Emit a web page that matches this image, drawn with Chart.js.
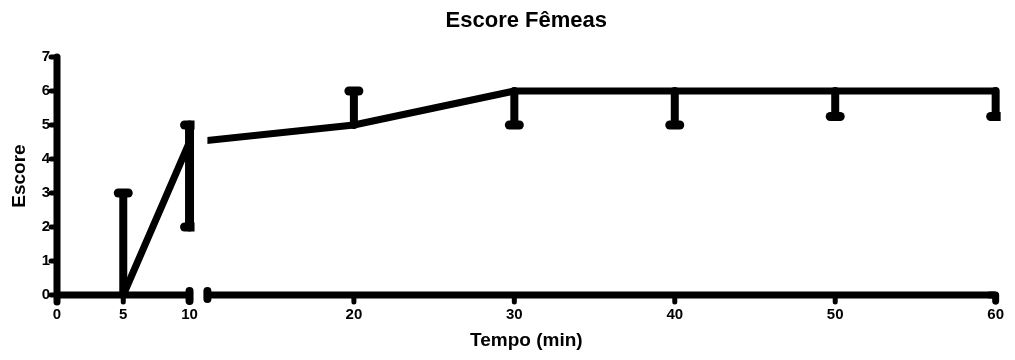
<!DOCTYPE html>
<html lang="pt-BR">
<head>
<meta charset="utf-8">
<title>Escore Fêmeas</title>
<script src="https://cdn.jsdelivr.net/npm/chart.js@4.4.1/dist/chart.umd.min.js"></script>
<style>
  html, body { margin: 0; padding: 0; background: #fff; }
  #quadro { width: 1015px; height: 360px; position: relative; }
</style>
</head>
<body>
<div id="quadro"><canvas id="grafico"></canvas></div>
<script>
// Escore ao longo do tempo: mediana com limites inferior e superior
const tempos = [5, 10, 20, 30, 40, 50, 60];
const medianas = [0, 4.5, 5, 6, 6, 6, 6];
const limiteInferior = [0, 2, 5, 5, 5, 5.25, 5.25];
const limiteSuperior = [3, 5, 6, 6, 6, 6, 6];

// Marcas dos eixos (eixo X interrompido entre 10 e 20 min)
const ticksTempo = [0, 5, 10, 20, 30, 40, 50, 60];
const rotulosTempo = ['0', '5', '10', '20', '30', '40', '50', '60'];
const ticksEscore = [0, 1, 2, 3, 4, 5, 6, 7];

// Geometria do eixo interrompido, em unidades internas da escala linear
const FIM_TRECHO1 = 10;         // último minuto do primeiro trecho
const INICIO_TRECHO2 = 10.87;   // primeiro minuto visível do segundo trecho
const ESCALA_TRECHO2 = 1.2105;  // largura relativa de 1 min no segundo trecho
const ORIGEM_TRECHO2 = 22.4;    // posição interna do minuto 20

function posicao(t, trecho) {
  return trecho === 1 ? t : ORIGEM_TRECHO2 + (t - 20) * ESCALA_TRECHO2;
}
function trechoDe(t) { return t <= FIM_TRECHO1 ? 1 : 2; }

const pontosTrecho1 = [];
const pontosTrecho2 = [];
tempos.forEach((t, i) => {
  if (t <= FIM_TRECHO1) pontosTrecho1.push({ x: posicao(t, 1), y: medianas[i] });
  if (t >= FIM_TRECHO1) pontosTrecho2.push({ x: posicao(t, 2), y: medianas[i] });
});

const PRETO = '#000';

function traco(ctx, x1, y1, x2, y2) {
  ctx.beginPath();
  ctx.moveTo(x1, y1);
  ctx.lineTo(x2, y2);
  ctx.stroke();
}

function limitesTrechos(x) {
  return {
    xIni: x.getPixelForValue(posicao(0, 1)),
    x10: x.getPixelForValue(posicao(FIM_TRECHO1, 1)),
    x2a: x.getPixelForValue(posicao(INICIO_TRECHO2, 2)),
    x60: x.getPixelForValue(posicao(60, 2))
  };
}

// Eixos desenhados com pontas arredondadas e o corte entre os trechos
const eixoInterrompido = {
  id: 'eixoInterrompido',
  beforeDatasetsDraw(chart) {
    const { ctx, scales: { x, y } } = chart;
    const { xIni, x10, x2a, x60 } = limitesTrechos(x);
    const y0 = y.getPixelForValue(0);
    const yTopo = y.getPixelForValue(7);
    ctx.save();
    ctx.strokeStyle = PRETO;
    ctx.lineJoin = 'round';

    // eixo Y
    ctx.lineCap = 'round';
    ctx.lineWidth = 7;
    traco(ctx, xIni, yTopo, xIni, y0 + 7);
    ctx.lineWidth = 5;
    ticksEscore.forEach(v => {
      const py = y.getPixelForValue(v);
      traco(ctx, xIni - 6, py, xIni, py);
    });

    // eixo X, dois trechos
    ctx.lineCap = 'butt';
    ctx.lineWidth = 7;
    traco(ctx, xIni, y0, x10, y0);
    traco(ctx, x2a, y0, x60, y0);

    // extremidades do corte
    ctx.lineCap = 'round';
    ctx.lineWidth = 8;
    traco(ctx, x10, y0 - 4, x10, y0 + 6);
    traco(ctx, x2a, y0 - 4, x2a, y0 + 4);

    // marcas do eixo X
    ctx.lineWidth = 5;
    ticksTempo.forEach(t => {
      const px = x.getPixelForValue(posicao(t, trechoDe(t)));
      traco(ctx, px, y0, px, y0 + 7);
    });
    ctx.lineWidth = 7;
    ctx.beginPath();
    ctx.moveTo(x60 - 6, y0);
    ctx.lineTo(x60, y0);
    ctx.lineTo(x60, y0 + 6);
    ctx.stroke();
    ctx.restore();
  }
};

// O segundo trecho da linha começa após o corte do eixo
const recorteTrecho2 = {
  id: 'recorteTrecho2',
  beforeDatasetDraw(chart, args) {
    if (args.index !== 1) return;
    const { ctx, scales: { x } } = chart;
    const { x2a } = limitesTrechos(x);
    ctx.save();
    ctx.beginPath();
    ctx.rect(x2a, 0, chart.width - x2a, chart.height);
    ctx.clip();
  },
  afterDatasetDraw(chart, args) {
    if (args.index === 1) chart.ctx.restore();
  }
};

// Barras de variação (limite inferior e superior) em cada tempo
const barrasVariacao = {
  id: 'barrasVariacao',
  afterDatasetsDraw(chart) {
    const { ctx, chartArea, scales: { x, y } } = chart;
    const { x10, x2a, x60 } = limitesTrechos(x);
    tempos.forEach((t, i) => {
      const trecho = trechoDe(t);
      const px = x.getPixelForValue(posicao(t, trecho));
      const yInf = y.getPixelForValue(limiteInferior[i]);
      const ySup = y.getPixelForValue(limiteSuperior[i]);
      ctx.save();
      ctx.beginPath();
      const topo = chartArea.top - 20;
      const alt = chartArea.height + 40;
      if (trecho === 1) {
        ctx.rect(chartArea.left - 20, topo, x10 + 5 - (chartArea.left - 20), alt);
      } else {
        ctx.rect(x2a, topo, x60 + 5 - x2a, alt);
      }
      ctx.clip();
      ctx.strokeStyle = PRETO;
      ctx.lineCap = 'round';
      ctx.lineWidth = trecho === 1 && t === FIM_TRECHO1 ? 9 : 8;
      traco(ctx, px, ySup, px, yInf);
      ctx.lineWidth = 9;
      if (limiteSuperior[i] > medianas[i]) traco(ctx, px - 5, ySup, px + 5, ySup);
      if (limiteInferior[i] < medianas[i]) traco(ctx, px - 5, yInf, px + 5, yInf);
      ctx.restore();
    });
  }
};

Chart.defaults.font.family = "'Liberation Sans', Arial, sans-serif";
Chart.defaults.color = PRETO;

new Chart(document.getElementById('grafico'), {
  type: 'line',
  data: {
    datasets: [
      {
        data: pontosTrecho1,
        borderColor: PRETO,
        borderWidth: 7,
        borderCapStyle: 'round',
        borderJoinStyle: 'round',
        pointRadius: 0,
        fill: false,
        tension: 0,
        clip: 8
      },
      {
        data: pontosTrecho2,
        borderColor: PRETO,
        borderWidth: 7,
        borderCapStyle: 'round',
        borderJoinStyle: 'round',
        pointRadius: 0,
        fill: false,
        tension: 0,
        clip: 8
      }
    ]
  },
  options: {
    responsive: true,
    maintainAspectRatio: false,
    animation: false,
    devicePixelRatio: 1,
    layout: { padding: { left: 0, right: 15, top: 0, bottom: 0 } },
    plugins: {
      legend: { display: false },
      tooltip: { enabled: false },
      title: {
        display: true,
        text: 'Escore Fêmeas',
        fullSize: false,
        color: PRETO,
        font: { size: 22, weight: 'bold' },
        padding: { top: 8, bottom: 22.6 }
      }
    },
    scales: {
      x: {
        type: 'linear',
        min: 0,
        max: posicao(60, 2),
        border: { display: false },
        grid: { display: false, drawTicks: false },
        afterBuildTicks: s => { s.ticks = ticksTempo.map(t => ({ value: posicao(t, trechoDe(t)) })); },
        afterFit: s => { s.height = 65; },
        ticks: {
          autoSkip: false,
          maxRotation: 0,
          padding: 11,
          color: PRETO,
          font: { size: 15, weight: 'bold' },
          callback: (v, i) => rotulosTempo[i]
        },
        title: {
          display: true,
          text: 'Tempo (min)',
          color: PRETO,
          font: { size: 19, weight: 'bold' },
          padding: { top: 0, bottom: 7.6 }
        }
      },
      y: {
        min: 0,
        max: 7,
        border: { display: false },
        grid: { display: false, drawTicks: false },
        afterFit: s => { s.width = 57; },
        ticks: {
          stepSize: 1,
          padding: 7,
          color: PRETO,
          font: { size: 15, weight: 'bold' }
        },
        title: {
          display: true,
          text: 'Escore',
          color: PRETO,
          font: { size: 19, weight: 'bold' },
          padding: { top: 8.4, bottom: 0 }
        }
      }
    }
  },
  plugins: [eixoInterrompido, recorteTrecho2, barrasVariacao]
});
</script>
</body>
</html>
